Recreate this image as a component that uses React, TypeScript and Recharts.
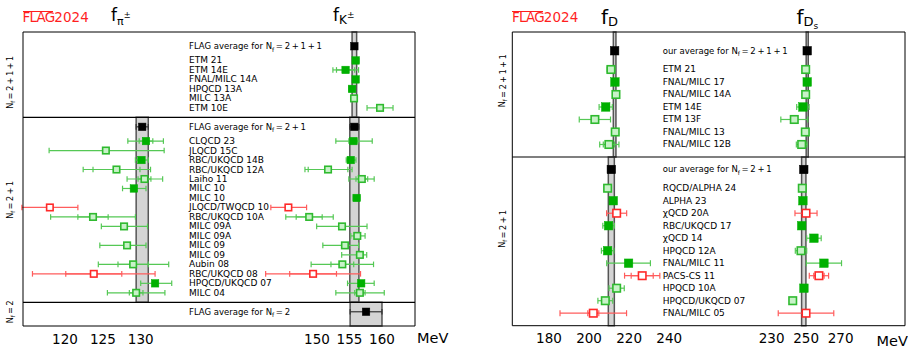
import { ScatterChart, Scatter, XAxis, YAxis, ErrorBar, ReferenceArea, ReferenceLine } from "recharts";

type Num = number | null;
type Err = number | [number, number] | null;

const FONT = "'DejaVu Sans', Verdana, sans-serif";

// ---------- left panel: f_pi+ / f_K+ (MeV) ----------
const L_N4_LABELS = ["ETM 21", "ETM 14E", "FNAL/MILC 14A", "HPQCD 13A", "MILC 13A", "ETM 10E"];
const L_N3_LABELS = [
  "CLQCD 23", "JLQCD 15C", "RBC/UKQCD 14B", "RBC/UKQCD 12A", "Laiho 11", "MILC 10", "MILC 10",
  "JLQCD/TWQCD 10", "RBC/UKQCD 10A", "MILC 09A", "MILC 09A", "MILC 09", "MILC 09", "Aubin 08",
  "RBC/UKQCD 08", "HPQCD/UKQCD 07", "MILC 04",
];
const L_N2_LABELS: string[] = [];

const FPI_N3: Num[] = [130.7, 125.4, 130.1, 126.8, 130.5, 129.1, null, 118.0, 123.7, 127.8, null, 128.2, null, 129.0, 123.8, 131.9, 129.4];
const FPI_N3_ERR: Err[] = [[2.4, 2.3], [7.5, 7.7], [0.8, 0.9], [4.4, 4.5], [2.3, 2.4], [1.5, 1.6], null, 3.7, 5.6, [3.0, 3.1], null, [3.6, 2.5], null, [4.6, 4.7], 8.1, [1.9, 2.2], 3.8];
const FPI_N3_STAT: Num[] = [0.9, null, null, 3.1, 0.85, null, null, null, 2.0, null, null, null, null, 2.0, 3.7, null, 0.9];
const L_N3_KIND = "fofooffroooooorfo";
const FPI_AVG: Num[] = [null, 130.2, null];
const FPI_AVG_ERR = [0, 0.8, 0];

const FK_N4: Num[] = [155.95, 154.4, 155.95, 155.4, 155.7, 159.7];
const FK_N4_ERR: Err[] = [0.5, [1.95, 2.0], 0.4, 0.5, 0.5, 2.0];
const FK_N4_STAT: Num[] = [null, 1.4, null, null, null, null];
const L_N4_KIND = "ffffoo";
const FK_N3: Num[] = [155.6, null, 155.2, 151.7, 156.9, null, 156.1, 145.6, 148.8, 153.85, 156.2, 154.3, 156.6, 153.9, 149.4, 156.8, 156.6];
const FK_N3_ERR: Err[] = [[2.7, 2.9], null, [0.7, 0.8], [3.55, 3.7], [2.0, 1.9], null, 0.5, [2.7, 2.8], [3.6, 3.7], [3.9, 3.85], [1.0, 1.2], [3.4, 2.1], [2.8, 1.05], 4.8, 7.3, [2.1, 2.0], [3.7, 3.75]];
const FK_N3_STAT: Num[] = [0.7, null, null, 3.05, 0.9, null, null, null, 2.0, null, null, null, null, 1.75, 3.6, null, 0.8];
const FK_AVG: Num[] = [155.75, 155.75, 157.55];
const FK_AVG_ERR = [0.35, 0.7, 2.45];

// ---------- right panel: f_D / f_Ds (MeV) ----------
const R_N4_LABELS = ["ETM 21", "FNAL/MILC 17", "FNAL/MILC 14A", "ETM 14E", "ETM 13F", "FNAL/MILC 13", "FNAL/MILC 12B"];
const R_N3_LABELS = [
  "RQCD/ALPHA 24", "ALPHA 23", "χQCD 20A", "RBC/UKQCD 17", "χQCD 14", "HPQCD 12A", "FNAL/MILC 11",
  "PACS-CS 11", "HPQCD 10A", "HPQCD/UKQCD 07", "FNAL/MILC 05",
];

const FD_N4: Num[] = [210.9, 212.9, 213.4, 208.3, 202.9, 213.05, 209.9];
const FD_N4_ERR: Err[] = [1.9, 0.6, 0.7, 3.3, 7.8, 0.6, [4.6, 5.0]];
const FD_N4_STAT: Num[] = [null, null, null, null, null, null, 2.8];
const FD_N4_KIND = "ofofooo";
const FD_N3: Num[] = [209.25, 212.05, 213.75, 209.75, null, 209.25, 219.7, 226.5, 213.75, 208.1, 202.1];
const FD_N3_ERR: Err[] = [1.5, 1.5, 5.0, 2.9, null, 3.1, 10.9, 8.8, 3.8, 3.7, 16.6];
const FD_N3_STAT: Num[] = [null, null, null, null, null, null, null, 5.5, null, null, 2.75];
const FD_N3_KIND = "ofrf-ffroor";
const FD_AVG: Num[] = [212.75, 211.1];
const FD_AVG_ERR = [0.65, 1.5];

const FDS_N4: Num[] = [249.7, 250.6, 249.7, 248.1, 243.1, 249.5, 247.4];
const FDS_N4_ERR: Err[] = [1.2, 0.5, 0.6, 3.6, 7.8, 0.6, 3.1];
const FDS_N4_STAT: Num[] = [null, null, null, null, null, null, null];
const FDS_N4_KIND = "ofofooo";
const FDS_N3: Num[] = [247.75, 248.1, 249.9, 247.4, 254.5, 247.0, 260.3, 257.4, 248.7, 242.2, 249.9];
const FDS_N3_ERR: Err[] = [1.2, 1.0, 6.4, 1.0, 4.2, 3.3, 10.2, 5.6, 1.0, 1.5, 16.1];
const FDS_N3_STAT: Num[] = [null, null, null, null, null, null, null, 3.0, null, null, null];
const FDS_N3_KIND = "ofrffofrfor";
const FDS_AVG: Num[] = [250.6, 248.6];
const FDS_AVG_ERR = [0.6, 1.25];

const GREEN = "#00b000";
const GREEN_BAR = "#55c855";
const RED = "#ff2a2a";
const RED_BAR = "#ff5c5c";

interface Section {
  vals: Num[];
  err: Err[];
  stat: Num[];
  kind: string;
  avg: Num;
  avgErr: number;
}

interface Layout {
  avgY: number[];
  rows: number[][];
  start: number[];
  end: number[];
  total: number;
}

// rows are one unit apart, averages sit above each group
function makeLayout(labelSets: string[][]): Layout {
  const lay: Layout = { avgY: [], rows: [], start: [], end: [], total: 0 };
  let y = 0;
  labelSets.forEach((labels, i) => {
    lay.start.push(y);
    const a = y + (i === 0 ? 1.5 : 1);
    const rows = labels.map((_, j) => a + 1.5 + j);
    const end = rows.length ? rows[rows.length - 1] + 1 : a + 1.5;
    lay.avgY.push(a);
    lay.rows.push(rows);
    lay.end.push(end);
    y = end;
  });
  lay.total = y;
  return lay;
}

const Empty = () => <g />;

const squareShape = (size: number, fill: string, stroke: string, sw: number) => (p: any) => (
  <rect x={p.cx - size / 2} y={p.cy - size / 2} width={size} height={size} fill={fill} stroke={stroke} strokeWidth={sw} />
);

function NfText({ prefix, nf, size }: { prefix: string; nf: string; size: number }) {
  return (
    <>
      {prefix}N
      <tspan dy={size * 0.28} fontSize={size * 0.7}>f</tspan>
      <tspan dy={-size * 0.28}>{"\u2009=\u2009" + nf.split("+").join("\u2009+\u2009")}</tspan>
    </>
  );
}

function RowLabel(props: any) {
  const { viewBox, shiftX, txt, nf, fs } = props;
  if (!viewBox) return null;
  return (
    <text x={viewBox.x + shiftX} y={viewBox.y} dominantBaseline="central" fontSize={fs} fontFamily={FONT} fill="#000">
      {nf ? <NfText prefix={txt} nf={nf} size={fs} /> : txt}
    </text>
  );
}

function SectionLabel(props: any) {
  const { viewBox, shiftX, nf } = props;
  if (!viewBox) return null;
  const x = viewBox.x + shiftX;
  const y = viewBox.y;
  return (
    <text x={x} y={y} transform={`rotate(-90, ${x}, ${y})`} textAnchor="middle" dominantBaseline="central" fontSize={8} fontFamily={FONT} fill="#000">
      <NfText prefix="" nf={nf} size={8} />
    </text>
  );
}

interface ChartProps {
  left: number;
  width: number;
  margin: { top: number; right: number; bottom: number; left: number };
  axisHeight: number;
  domain: [number, number];
  ticks: number[];
  lay: Layout;
  sections: Section[];
  size: number;
  cap: number;
  overlay?: {
    labels: string[][];
    nfs: string[];
    avgText: string;
    labelX: number;
    sectionPos: number[];
    sectionX: number;
  };
}

function QuantityChart({ left, width, margin, axisHeight, domain, ticks, lay, sections, size, cap, overlay }: ChartProps) {
  const pts: Record<string, any[]> = { f: [], o: [], r: [], a: [] };
  const statG: any[] = [];
  const statR: any[] = [];
  sections.forEach((s, i) => {
    if (s.avg != null) pts.a.push({ x: s.avg, y: lay.avgY[i], err: s.avgErr });
    s.vals.forEach((v, j) => {
      if (v == null) return;
      const k = s.kind[j];
      const y = lay.rows[i][j];
      pts[k].push({ x: v, y, err: s.err[j] });
      if (s.stat[j] != null) (k === "r" ? statR : statG).push({ x: v, y, stat: s.stat[j] });
    });
  });

  return (
    <div style={{ position: "absolute", left, top: 0 }}>
      <ScatterChart width={width} height={348} margin={margin}>
        <XAxis
          type="number"
          dataKey="x"
          domain={domain}
          ticks={ticks}
          interval={0}
          allowDataOverflow
          axisLine={false}
          tickLine={false}
          height={axisHeight}
          tick={{ fontSize: 13.5, fill: "#000", fontFamily: FONT }}
        />
        <YAxis type="number" dataKey="y" domain={[0, lay.total]} reversed hide allowDataOverflow />
        {sections.map((s, i) =>
          s.avg == null ? null : (
            <ReferenceArea
              key={"band" + i}
              x1={s.avg - s.avgErr}
              x2={s.avg + s.avgErr}
              y1={lay.start[i]}
              y2={lay.end[i]}
              fill="#d4d4d4"
              fillOpacity={1}
              stroke="#555"
              strokeWidth={1.5}
              ifOverflow="visible"
            />
          )
        )}
        {overlay && (
          <ReferenceArea x1={domain[0]} x2={domain[1]} y1={0} y2={lay.total} fill="none" fillOpacity={0} stroke="#000" strokeWidth={1} ifOverflow="visible" />
        )}
        {overlay && lay.start.slice(1).map((y, i) => <ReferenceLine key={"sep" + i} y={y} stroke="#000" strokeWidth={1.2} ifOverflow="visible" />)}
        {overlay &&
          overlay.labels.map((labels, i) => [
            <ReferenceLine
              key={"avgl" + i}
              y={lay.avgY[i]}
              stroke="none"
              ifOverflow="visible"
              label={<RowLabel shiftX={overlay.labelX} txt={overlay.avgText} nf={overlay.nfs[i]} fs={8.5} />}
            />,
            ...labels.map((t, j) => (
              <ReferenceLine
                key={"row" + i + "-" + j}
                y={lay.rows[i][j]}
                stroke="none"
                ifOverflow="visible"
                label={<RowLabel shiftX={overlay.labelX} txt={t} fs={9} />}
              />
            )),
            <ReferenceLine
              key={"sec" + i}
              y={overlay.sectionPos[i]}
              stroke="none"
              ifOverflow="visible"
              label={<SectionLabel shiftX={overlay.sectionX} nf={overlay.nfs[i]} />}
            />,
          ])}
        <Scatter data={statG} shape={Empty} isAnimationActive={false}>
          <ErrorBar dataKey="stat" direction="x" width={cap} stroke={GREEN_BAR} strokeWidth={1.2} isAnimationActive={false} />
        </Scatter>
        <Scatter data={statR} shape={Empty} isAnimationActive={false}>
          <ErrorBar dataKey="stat" direction="x" width={cap} stroke={RED_BAR} strokeWidth={1.2} isAnimationActive={false} />
        </Scatter>
        <Scatter data={pts.o} shape={squareShape(size - 1, "#c8f2c8", "#2fba2f", 1.6)} isAnimationActive={false}>
          <ErrorBar dataKey="err" direction="x" width={cap} stroke={GREEN_BAR} strokeWidth={1.2} isAnimationActive={false} />
        </Scatter>
        <Scatter data={pts.f} shape={squareShape(size, GREEN, GREEN, 0.5)} isAnimationActive={false}>
          <ErrorBar dataKey="err" direction="x" width={cap} stroke={GREEN_BAR} strokeWidth={1.2} isAnimationActive={false} />
        </Scatter>
        <Scatter data={pts.r} shape={squareShape(size - 1, "#fff", RED, 1.6)} isAnimationActive={false}>
          <ErrorBar dataKey="err" direction="x" width={cap} stroke={RED_BAR} strokeWidth={1.2} isAnimationActive={false} />
        </Scatter>
        <Scatter data={pts.a} shape={squareShape(size, "#000", "#000", 0.5)} isAnimationActive={false}>
          <ErrorBar dataKey="err" direction="x" width={cap} stroke="#333" strokeWidth={1.2} isAnimationActive={false} />
        </Scatter>
      </ScatterChart>
    </div>
  );
}

function FlagLogo({ left }: { left: number }) {
  return (
    <div style={{ position: "absolute", left, top: 11, fontSize: 13.5, lineHeight: 1, color: "#ff1f1f", fontFamily: FONT }}>
      <span style={{ letterSpacing: -0.8, position: "relative" }}>
        FLAG
        <span style={{ position: "absolute", left: 0, right: 1, top: 1.5, height: 1.3, background: "#ff1f1f" }} />
      </span>
      <span>2024</span>
    </div>
  );
}

function Title({ left, top, size, sub, subSize, subDy, sup, sup2 }: any) {
  return (
    <div style={{ position: "absolute", left, top, fontSize: size, lineHeight: 1, fontFamily: FONT, whiteSpace: "nowrap" }}>
      f
      <span style={{ fontSize: subSize, position: "relative", top: subDy }}>{sub}</span>
      {sup2 && <span style={{ fontSize: subSize * 0.7, position: "relative", top: subDy + 3 }}>{sup2}</span>}
      {sup && <span style={{ fontSize: subSize * 0.75, position: "relative", top: -subSize * 0.25 }}>{sup}</span>}
    </div>
  );
}

const leftLay = makeLayout([L_N4_LABELS, L_N3_LABELS, L_N2_LABELS]);
const rightLay = makeLayout([R_N4_LABELS, R_N3_LABELS]);

const FPI_SECTIONS: Section[] = [
  { vals: [], err: [], stat: [], kind: "", avg: FPI_AVG[0], avgErr: FPI_AVG_ERR[0] },
  { vals: FPI_N3, err: FPI_N3_ERR, stat: FPI_N3_STAT, kind: L_N3_KIND, avg: FPI_AVG[1], avgErr: FPI_AVG_ERR[1] },
  { vals: [], err: [], stat: [], kind: "", avg: FPI_AVG[2], avgErr: FPI_AVG_ERR[2] },
];
const FK_SECTIONS: Section[] = [
  { vals: FK_N4, err: FK_N4_ERR, stat: FK_N4_STAT, kind: L_N4_KIND, avg: FK_AVG[0], avgErr: FK_AVG_ERR[0] },
  { vals: FK_N3, err: FK_N3_ERR, stat: FK_N3_STAT, kind: L_N3_KIND, avg: FK_AVG[1], avgErr: FK_AVG_ERR[1] },
  { vals: [], err: [], stat: [], kind: "", avg: FK_AVG[2], avgErr: FK_AVG_ERR[2] },
];
const FD_SECTIONS: Section[] = [
  { vals: FD_N4, err: FD_N4_ERR, stat: FD_N4_STAT, kind: FD_N4_KIND, avg: FD_AVG[0], avgErr: FD_AVG_ERR[0] },
  { vals: FD_N3, err: FD_N3_ERR, stat: FD_N3_STAT, kind: FD_N3_KIND, avg: FD_AVG[1], avgErr: FD_AVG_ERR[1] },
];
const FDS_SECTIONS: Section[] = [
  { vals: FDS_N4, err: FDS_N4_ERR, stat: FDS_N4_STAT, kind: FDS_N4_KIND, avg: FDS_AVG[0], avgErr: FDS_AVG_ERR[0] },
  { vals: FDS_N3, err: FDS_N3_ERR, stat: FDS_N3_STAT, kind: FDS_N3_KIND, avg: FDS_AVG[1], avgErr: FDS_AVG_ERR[1] },
];

const LEFT_MARGIN = { top: 32, right: 25, bottom: 0, left: 23 };
const RIGHT_MARGIN = { top: 32, right: 3, bottom: 0, left: 42.3 };

export default function App() {
  return (
    <div style={{ position: "absolute", left: 0, top: 0, width: 908, height: 348, background: "#fff", overflow: "hidden", fontFamily: FONT }}>
      <FlagLogo left={22.5} />
      <FlagLogo left={512} />
      <Title left={111} top={7} size={17} sub="π" subSize={11} subDy={3.5} sup="±" />
      <Title left={333} top={7} size={17} sub="K" subSize={12} subDy={3} sup="±" />
      <Title left={601} top={6.5} size={20} sub="D" subSize={13} subDy={2} />
      <Title left={796.5} top={6.5} size={20} sub="D" subSize={13} subDy={2} sup2="s" />

      <QuantityChart
        left={0}
        width={440}
        margin={LEFT_MARGIN}
        axisHeight={22}
        domain={[114.45, 166.24]}
        ticks={[120, 125, 130]}
        lay={leftLay}
        sections={FPI_SECTIONS}
        size={7.5}
        cap={2.8}
      />
      <QuantityChart
        left={0}
        width={440}
        margin={LEFT_MARGIN}
        axisHeight={22}
        domain={[104.77, 165.08]}
        ticks={[150, 155, 160]}
        lay={leftLay}
        sections={FK_SECTIONS}
        size={7.5}
        cap={2.8}
        overlay={{
          labels: [L_N4_LABELS, L_N3_LABELS, L_N2_LABELS],
          nfs: ["2+1+1", "2+1", "2"],
          avgText: "FLAG average for ",
          labelX: 166,
          sectionPos: [5.3, 17.7, 29.5],
          sectionX: -12.7,
        }}
      />
      <QuantityChart
        left={470}
        width={438}
        margin={RIGHT_MARGIN}
        axisHeight={22.3}
        domain={[161.7, 357.6]}
        ticks={[180, 200, 220, 240]}
        lay={rightLay}
        sections={FD_SECTIONS}
        size={8.5}
        cap={3}
      />
      <QuantityChart
        left={470}
        width={438}
        margin={RIGHT_MARGIN}
        axisHeight={22.3}
        domain={[79.6, 307.3]}
        ticks={[230, 250, 270]}
        lay={rightLay}
        sections={FDS_SECTIONS}
        size={8.5}
        cap={3}
        overlay={{
          labels: [R_N4_LABELS, R_N3_LABELS],
          nfs: ["2+1+1", "2+1"],
          avgText: "our average for ",
          labelX: 150.4,
          sectionPos: [3.9, 15.75],
          sectionX: -9.3,
        }}
      />

      <div style={{ position: "absolute", left: 417, top: 331, fontSize: 14.5, lineHeight: 1 }}>MeV</div>
      <div style={{ position: "absolute", left: 876.5, top: 334, fontSize: 14.5, lineHeight: 1 }}>MeV</div>
    </div>
  );
}
